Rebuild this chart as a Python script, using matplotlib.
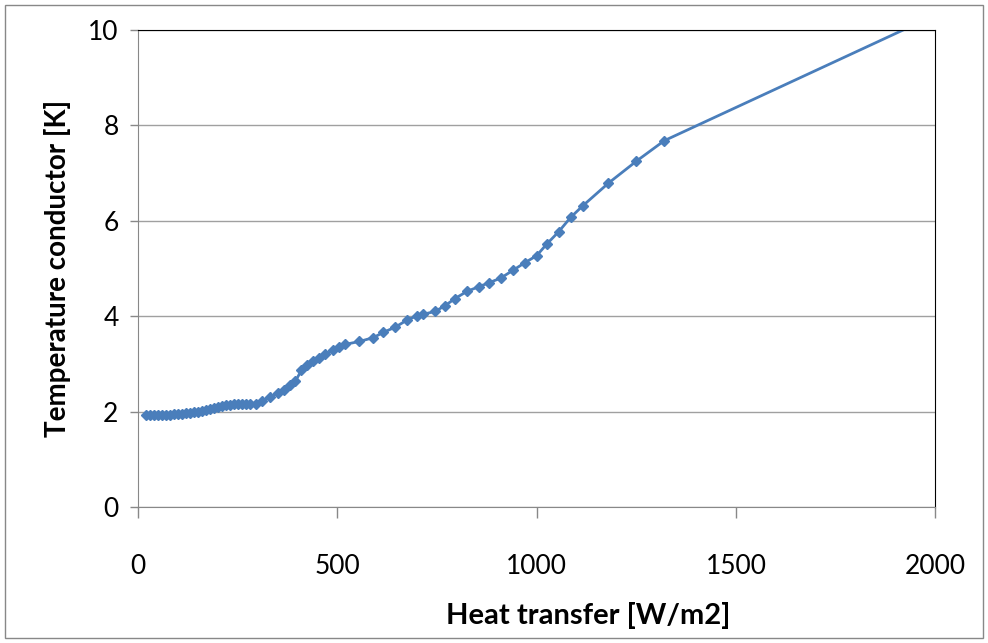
import numpy as np
import matplotlib.pyplot as plt
from matplotlib.patches import Rectangle

# dane
q = [20, 30, 40, 50, 60, 70, 80, 90, 100, 110, 120, 130, 140, 150, 160, 170, 180,
     190, 200, 210, 220, 230, 240, 250, 260, 270, 280,
     295, 310, 330, 350, 365, 380, 395, 410, 425, 440, 455, 470, 490, 505, 520,
     555, 590, 615, 645, 675, 700, 715, 745, 770, 795, 825, 855, 880, 910, 940,
     970, 1000, 1025, 1055, 1085, 1115, 1180, 1250, 1320]
temp = [1.92, 1.92, 1.92, 1.92, 1.92, 1.93, 1.93, 1.94, 1.95, 1.96, 1.97, 1.98, 1.99,
        2.00, 2.02, 2.03, 2.05, 2.07, 2.09, 2.11, 2.13, 2.14, 2.15, 2.15, 2.15, 2.15, 2.15,
        2.17, 2.23, 2.30, 2.38, 2.46, 2.55, 2.64, 2.87, 2.98, 3.06, 3.13, 3.20, 3.29,
        3.36, 3.41, 3.47, 3.55, 3.66, 3.77, 3.92, 4.01, 4.04, 4.10, 4.22, 4.37, 4.52,
        4.62, 4.70, 4.80, 4.96, 5.12, 5.27, 5.51, 5.77, 6.07, 6.31, 6.79, 7.25, 7.68]
# ostatni punkt lezy poza osia
q_end = [1320, 2500]
temp_end = [7.68, 12.25]

kolor = '#4a7ebb'

fig = plt.figure(figsize=(9.88, 6.43), dpi=100)
ax = fig.add_axes([0.1397, 0.2115, 0.807, 0.7418])

ax.plot(q_end, temp_end, color=kolor, lw=2)
ax.plot(q, temp, color=kolor, lw=2, marker='D', markersize=5.5)

ax.set_xlim(0, 2000)
ax.set_ylim(0, 10)
ax.set_xticks([0, 500, 1000, 1500, 2000])
ax.set_yticks([0, 2, 4, 6, 8, 10])
ax.yaxis.grid(True, color='#a0a0a0', lw=1)
ax.set_axisbelow(True)

for s in ['left', 'bottom']:
    ax.spines[s].set_color('#888888')
for s in ['top', 'right']:
    ax.spines[s].set_color('black')
ax.tick_params(axis='x', length=8, width=1, color='#888888', pad=26, labelsize=19)
ax.tick_params(axis='y', length=6, width=1, color='#888888', pad=8, labelsize=19)
for lab in ax.get_xticklabels() + ax.get_yticklabels():
    lab.set_family('Lato')

ax.set_xlabel('Heat transfer [W/m2]', fontsize=21, fontweight='bold', family='Lato')
ax.set_ylabel('Temperature conductor [K]', fontsize=20, fontweight='bold', family='Lato', labelpad=12)
ax.xaxis.set_label_coords(0.565, -0.2)

fig.patches.append(Rectangle((0.005, 0.008), 0.99, 0.984, transform=fig.transFigure,
                             fill=False, edgecolor='#888888', lw=1))

fig.savefig('out.png', dpi=100)
